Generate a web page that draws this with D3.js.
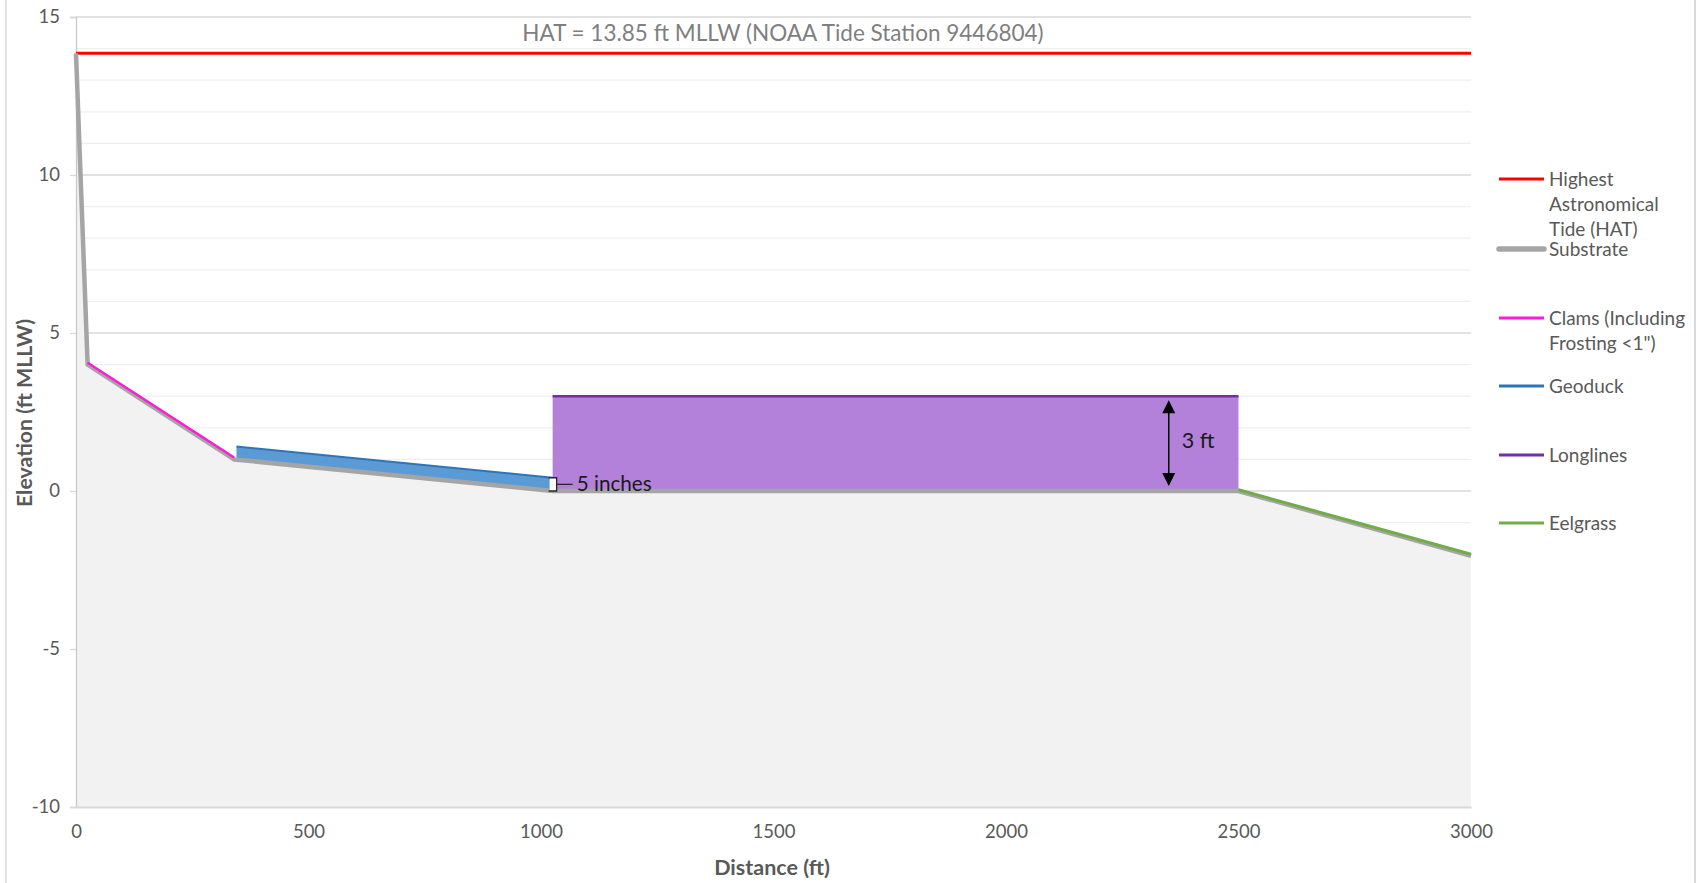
<!DOCTYPE html>
<html>
<head>
<meta charset="utf-8">
<script src="https://cdn.jsdelivr.net/npm/d3@7"></script>
<style>
  html, body { margin: 0; padding: 0; background: #fff; }
  svg { display: block; }
  text { font-family: Lato, "Open Sans", sans-serif; }
</style>
</head>
<body>
<svg id="chart" width="1697" height="883"></svg>
<script>
// ---------------- DATA ----------------
const xTicks = [0, 500, 1000, 1500, 2000, 2500, 3000];
const yTicks = [-10, -5, 0, 5, 10, 15];
const yMinorTicks = d3.range(-10, 16, 1);

const substrateX = [0, 25, 340, 1025, 2500, 3000];
const substrateY = [13.85, 4, 1, 0, 0, -2.05];

const hatLevel = 13.85;
const hatX = [0, 3000];

const clamsX = [25, 340];
const clamsY = [4.06, 1.06];

const geoduckX = [345, 1025];
const geoduckBase = [0.99, 0];
const geoduckTop = [1.41, 0.42];

const longlinesX = [1025, 2500];
const longlinesBase = [0, 0];
const longlinesTop = [3, 3];

const eelgrassX = [2500, 3000];
const eelgrassY = [0.04, -2.0];

const legendLabels = [
  ["Highest", "Astronomical", "Tide (HAT)"],
  ["Substrate"],
  ["Clams (Including", "Frosting <1\")"],
  ["Geoduck"],
  ["Longlines"],
  ["Eelgrass"]
];
const legendColors = ["#ff0000", "#a5a5a5", "#ff19d9", "#2e75b6", "#7030a0", "#70ad47"];

const hatLabel = "HAT = 13.85 ft MLLW (NOAA Tide Station 9446804)";
const geoduckLabel = "5 inches";
const longlineLabel = "3 ft";
const arrowAt = 2350;

// ---------------- LAYOUT ----------------
const svg = d3.select("#chart");
const W = 1697, H = 883;
const plot = { left: 76, right: 1471, top: 17, bottom: 807 };

const x = d3.scaleLinear().domain([0, 3000]).range([plot.left, plot.right]);
const y = d3.scaleLinear().domain([-10, 15]).range([plot.bottom, plot.top]);

svg.append("rect").attr("width", W).attr("height", H).attr("fill", "#fff");

// chart border (left / right visible)
svg.append("line").attr("x1", 6).attr("x2", 6).attr("y1", 0).attr("y2", H)
  .attr("stroke", "#d9d9d9").attr("stroke-width", 1.5);
svg.append("line").attr("x1", 1695).attr("x2", 1695).attr("y1", 0).attr("y2", H)
  .attr("stroke", "#d9d9d9").attr("stroke-width", 2);

// minor gridlines
svg.append("g").selectAll("line")
  .data(yMinorTicks.filter(v => v % 5 !== 0))
  .join("line")
  .attr("x1", plot.left).attr("x2", plot.right)
  .attr("y1", d => y(d)).attr("y2", d => y(d))
  .attr("stroke", "#efefef").attr("stroke-width", 1.3);

// major gridlines
svg.append("g").selectAll("line")
  .data(yTicks.filter(v => v > -10))
  .join("line")
  .attr("x1", plot.left).attr("x2", plot.right)
  .attr("y1", d => y(d)).attr("y2", d => y(d))
  .attr("stroke", "#d9d9d9").attr("stroke-width", 1.3);

// substrate fill
const subPts = substrateX.map((v, i) => [v, substrateY[i]]);
svg.append("path")
  .datum(subPts)
  .attr("d", d3.area().x(d => x(d[0])).y0(y(-10)).y1(d => y(d[1])))
  .attr("fill", "#f2f2f2");

// axes
const fmt = d => String(d);
const yAxis = d3.axisLeft(y).tickValues(yTicks).tickSize(6).tickPadding(10).tickFormat(fmt);
const gy = svg.append("g").attr("transform", `translate(${plot.left},0)`).call(yAxis);
gy.select(".domain").attr("stroke", "#c8c8c8").attr("stroke-width", 1.3);
gy.selectAll(".tick line").attr("stroke", "#d9d9d9").attr("stroke-width", 1.3);
gy.selectAll(".tick text").attr("fill", "#595959").style("font-size", "18.5px").style("font-family", "Lato, sans-serif");

const xAxis = d3.axisBottom(x).tickValues(xTicks).tickSize(0).tickPadding(18).tickFormat(fmt);
const gx = svg.append("g").attr("transform", `translate(0,${plot.bottom})`).call(xAxis);
gx.select(".domain").attr("stroke", "#d9d9d9").attr("stroke-width", 2);
gx.selectAll(".tick text").attr("fill", "#595959").style("font-size", "18.5px").style("font-family", "Lato, sans-serif");

// axis titles
svg.append("text").attr("x", 772).attr("y", 875)
  .attr("text-anchor", "middle").attr("fill", "#595959")
  .style("font-size", "21.5px").style("font-weight", "bold")
  .text("Distance (ft)");
svg.append("text")
  .attr("transform", `translate(32,413) rotate(-90)`)
  .attr("text-anchor", "middle").attr("fill", "#595959")
  .style("font-size", "21.3px").style("font-weight", "bold")
  .text("Elevation (ft MLLW)");

const line = d3.line().x(d => x(d[0])).y(d => y(d[1]));

// HAT line
svg.append("path").datum(hatX.map(v => [v, hatLevel]))
  .attr("d", line).attr("stroke", "#ff0000").attr("stroke-width", 3).attr("fill", "none");

// longlines area
const llPts = longlinesX.map((v, i) => ({ x: v, y0: longlinesBase[i], y1: longlinesTop[i] }));
svg.append("path").datum(llPts)
  .attr("d", d3.area().x(d => x(d.x)).y0(d => y(d.y0)).y1(d => y(d.y1)))
  .attr("fill", "#b381d9");
svg.append("path").datum(longlinesX.map((v, i) => [v, longlinesTop[i]]))
  .attr("d", line).attr("stroke", "#7030a0").attr("stroke-width", 2.5).attr("fill", "none");

// geoduck band
const gdPts = geoduckX.map((v, i) => ({ x: v, y0: geoduckBase[i], y1: geoduckTop[i] }));
svg.append("path").datum(gdPts)
  .attr("d", d3.area().x(d => x(d.x)).y0(d => y(d.y0)).y1(d => y(d.y1)))
  .attr("fill", "#5b9bd5");
svg.append("path").datum(geoduckX.map((v, i) => [v, geoduckTop[i]]))
  .attr("d", line).attr("stroke", "#2e75b6").attr("stroke-width", 2).attr("fill", "none");

// substrate line
svg.append("path").datum(subPts)
  .attr("d", line).attr("stroke", "#a5a5a5").attr("stroke-width", 4.5)
  .attr("stroke-linejoin", "round").attr("fill", "none");

// clams
svg.append("path").datum(clamsX.map((v, i) => [v, clamsY[i]]))
  .attr("d", line).attr("stroke", "#ff19d9").attr("stroke-width", 2.5).attr("fill", "none");

// eelgrass
svg.append("path").datum(eelgrassX.map((v, i) => [v, eelgrassY[i]]))
  .attr("d", line).attr("stroke", "#70ad47").attr("stroke-width", 3).attr("fill", "none");

// HAT annotation
svg.append("text").attr("x", 783).attr("y", y(hatLevel) - 12)
  .attr("text-anchor", "middle").attr("fill", "#7f7f7f")
  .style("font-size", "22.5px").text(hatLabel);

// 5 inches bracket
const bx = x(geoduckX[1]);
const bTop = y(geoduckTop[1]), bBot = y(geoduckBase[1]);
svg.append("rect").attr("x", bx - 3).attr("y", bTop).attr("width", 7).attr("height", bBot - bTop)
  .attr("fill", "#ffffff");
svg.append("path")
  .attr("d", `M${bx - 4},${bTop} H${bx + 4} V${bBot} H${bx - 4}`)
  .attr("stroke", "#262626").attr("stroke-width", 1.3).attr("fill", "none");
svg.append("line").attr("x1", bx + 4).attr("x2", bx + 20)
  .attr("y1", (bTop + bBot) / 2).attr("y2", (bTop + bBot) / 2)
  .attr("stroke", "#262626").attr("stroke-width", 1.3);
svg.append("text").attr("x", bx + 24).attr("y", (bTop + bBot) / 2 + 7)
  .attr("fill", "#1a1a1a").style("font-size", "20.7px").text(geoduckLabel);

// 3 ft arrow
const ax = x(arrowAt);
const aTop = y(longlinesTop[0]) + 4, aBot = y(longlinesBase[0]) - 5;
svg.append("line").attr("x1", ax).attr("x2", ax).attr("y1", aTop + 10).attr("y2", aBot - 10)
  .attr("stroke", "#000").attr("stroke-width", 1.5);
svg.append("path").attr("d", `M${ax},${aTop} L${ax - 6.5},${aTop + 13} L${ax + 6.5},${aTop + 13} Z`).attr("fill", "#000");
svg.append("path").attr("d", `M${ax},${aBot} L${ax - 6.5},${aBot - 13} L${ax + 6.5},${aBot - 13} Z`).attr("fill", "#000");
svg.append("text").attr("x", ax + 13).attr("y", (aTop + aBot) / 2 + 5)
  .attr("fill", "#1a1a1a").style("font-size", "21.5px").text(longlineLabel);

// legend
const legendRowY = [179, 249, 318, 386, 455, 523];
const lg = svg.append("g");
legendLabels.forEach((lines, i) => {
  const cy = legendRowY[i];
  lg.append("line").attr("x1", 1499).attr("x2", 1544).attr("y1", cy).attr("y2", cy)
    .attr("stroke", legendColors[i])
    .attr("stroke-width", i === 1 ? 5.5 : 3)
    .attr("stroke-linecap", i === 1 ? "round" : "butt");
  const t = lg.append("text").attr("x", 1549).attr("y", cy + 7)
    .attr("fill", "#595959").style("font-size", "19px");
  lines.forEach((s, j) => {
    t.append("tspan").attr("x", 1549).attr("dy", j === 0 ? 0 : 24.8).text(s);
  });
});
</script>
</body>
</html>
